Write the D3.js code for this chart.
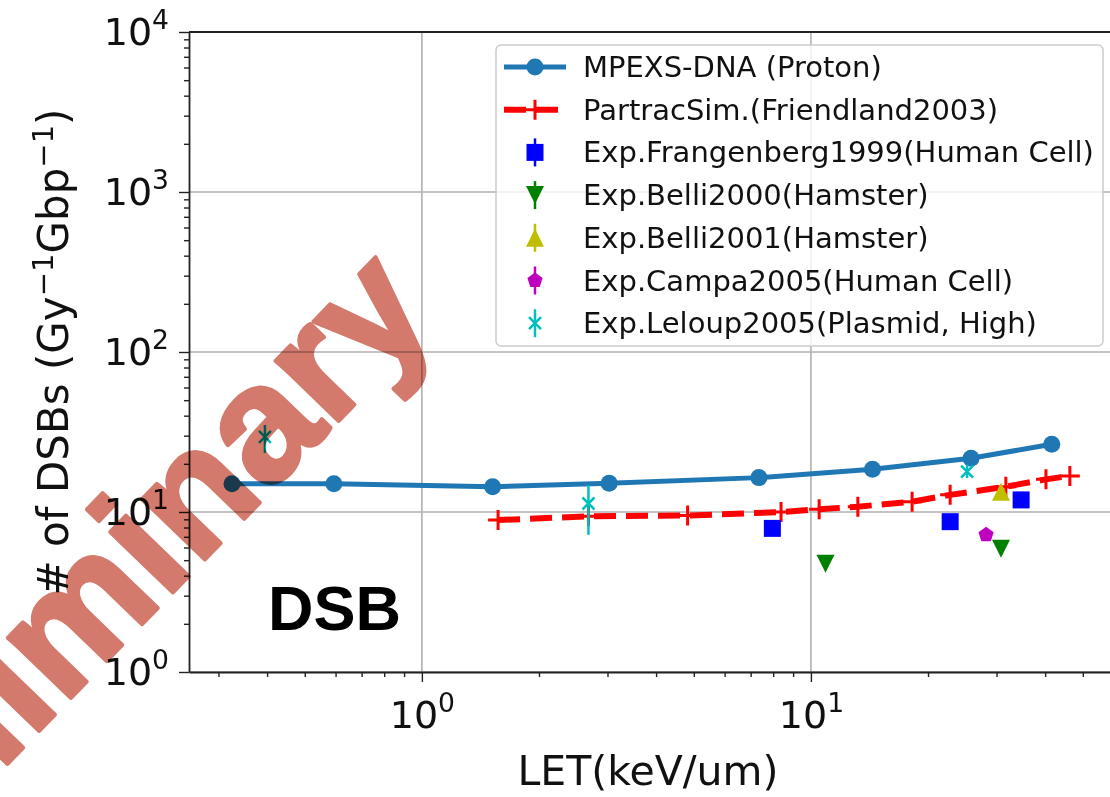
<!DOCTYPE html>
<html>
<head>
<meta charset="utf-8">
<script src="https://cdn.jsdelivr.net/npm/d3@7"></script>
<style>
  body { margin: 0; background: #fff; }
  text { font-family: "DejaVu Sans", sans-serif; }
</style>
</head>
<body>
<script>
// data
const mpexsLET = [0.325, 0.594, 1.52, 3.03, 7.35, 14.4, 25.8, 41.6]
const mpexsDSB = [15.0, 15.0, 14.4, 15.1, 16.4, 18.5, 21.7, 26.5]

const partracLET = [1.57, 2.68, 4.82, 8.38, 10.5, 13.2, 18.2, 22.8, 31.7, 40.2, 46.3]
const partracDSB = [8.9, 9.4, 9.5, 10.0, 10.4, 10.8, 11.6, 12.8, 14.4, 16.0, 16.8]

const frangLET = [7.96, 22.8, 34.7]
const frangDSB = [7.9, 8.7, 11.9]
const belli2000LET = [10.9, 30.8]
const belli2000DSB = [4.75, 5.9]
const belli2001LET = [30.8]
const belli2001DSB = [13.4]
const campaLET = [28.2]
const campaDSB = [7.2]
const leloupLET = [0.395, 2.68, 25.2]
const leloupDSB = [29.5, 11.3, 17.9]
const leloupLo = [23.4, 7.2, 16.3]
const leloupHi = [35.0, 14.7, 19.7]

const yMajor = [1, 10, 100, 1000, 10000]
const xMajor = [1, 10]
const legendLabels = ["MPEXS-DNA (Proton)", "PartracSim.(Friendland2003)",
  "Exp.Frangenberg1999(Human Cell)", "Exp.Belli2000(Hamster)", "Exp.Belli2001(Hamster)",
  "Exp.Campa2005(Human Cell)", "Exp.Leloup2005(Plasmid, High)"]

const w = 1110, h = 797
const pLeft = 189, pRight = 1120, pTop = 32, pBottom = 672

const svg = d3.select("body").append("svg").attr("width", w).attr("height", h)

const x = d3.scaleLog().domain([0.252, 62.3]).range([pLeft, pRight])
const y = d3.scaleLog().domain([1, 10000]).range([pBottom, pTop])

// minor tick values
let xMinor = [], yMinor = []
for (let e = -1; e <= 1; e++) for (let k = 2; k <= 9; k++) {
  let v = k * Math.pow(10, e)
  if (v > 0.252 && v < 62.3) xMinor.push(v)
}
for (let e = 0; e < 4; e++) for (let k = 2; k <= 9; k++) yMinor.push(k * Math.pow(10, e))

// grid
svg.append("g").selectAll("line").data(xMajor).enter().append("line")
  .attr("x1", d => x(d)).attr("x2", d => x(d)).attr("y1", pTop).attr("y2", pBottom)
  .attr("stroke", "#b0b0b0").attr("stroke-width", 1.6)
svg.append("g").selectAll("line").data(yMajor).enter().append("line")
  .attr("x1", pLeft).attr("x2", pRight).attr("y1", d => y(d)).attr("y2", d => y(d))
  .attr("stroke", "#b0b0b0").attr("stroke-width", 1.6)

function supLabels(sel, size) {
  sel.selectAll(".tick text").each(function(d) {
    let t = d3.select(this)
    t.text(null).attr("font-size", size).attr("fill", "#111")
    t.append("tspan").text("10")
    t.append("tspan").attr("dy", -size * 0.42).attr("font-size", size * 0.7)
      .text(Math.round(Math.log10(d)))
  })
}

// axes
let gx = svg.append("g").attr("transform", `translate(0,${pBottom})`)
  .call(d3.axisBottom(x).tickValues(xMajor).tickSize(10).tickPadding(19).tickSizeOuter(0))
supLabels(gx, 38)
svg.append("g").attr("transform", `translate(0,${pBottom})`)
  .call(d3.axisBottom(x).tickValues(xMinor).tickSize(5).tickFormat("").tickSizeOuter(0))
  .select(".domain").remove()

let gy = svg.append("g").attr("transform", `translate(${pLeft},0)`)
  .call(d3.axisLeft(y).tickValues(yMajor).tickSize(10).tickPadding(10).tickSizeOuter(0))
supLabels(gy, 38)
svg.append("g").attr("transform", `translate(${pLeft},0)`)
  .call(d3.axisLeft(y).tickValues(yMinor).tickSize(5).tickFormat("").tickSizeOuter(0))
  .select(".domain").remove()

svg.selectAll(".domain").attr("stroke", "#222").attr("stroke-width", 1.8)
svg.selectAll(".tick line").attr("stroke", "#222").attr("stroke-width", 1.4)
svg.append("line").attr("x1", pLeft).attr("x2", pRight).attr("y1", pTop).attr("y2", pTop)
  .attr("stroke", "#222").attr("stroke-width", 1.8)

// axis titles
svg.append("text").attr("x", 648).attr("y", 785).attr("text-anchor", "middle")
  .attr("font-size", 41).attr("fill", "#111").text("LET(keV/um)")
let yl = svg.append("text").attr("transform", "translate(68,352) rotate(-90)")
  .attr("text-anchor", "middle").attr("font-size", 42).attr("fill", "#111")
yl.append("tspan").text("# of DSBs (Gy")
yl.append("tspan").attr("dy", -15).attr("font-size", 29).text("\u22121")
yl.append("tspan").attr("dy", 15).text("Gbp")
yl.append("tspan").attr("dy", -15).attr("font-size", 29).text("\u22121")
yl.append("tspan").attr("dy", 15).text(")")

// series
const plot = svg.append("g")

let mpexs = mpexsLET.map((d, i) => [d, mpexsDSB[i]])
plot.append("path").datum(mpexs)
  .attr("d", d3.line().x(d => x(d[0])).y(d => y(d[1])))
  .attr("fill", "none").attr("stroke", "#1f77b4").attr("stroke-width", 5)
plot.selectAll(".mp").data(mpexs).enter().append("circle")
  .attr("cx", d => x(d[0])).attr("cy", d => y(d[1])).attr("r", 8.5).attr("fill", "#1f77b4")

let partrac = partracLET.map((d, i) => [d, partracDSB[i]])
plot.append("path").datum(partrac)
  .attr("d", d3.line().x(d => x(d[0])).y(d => y(d[1])))
  .attr("fill", "none").attr("stroke", "#ff0000").attr("stroke-width", 6)
  .attr("stroke-dasharray", "22,10")
plot.selectAll(".pp").data(partrac).enter().append("path")
  .attr("d", d => `M${x(d[0]) - 10},${y(d[1])}h20M${x(d[0])},${y(d[1]) - 10}v20`)
  .attr("stroke", "#ff0000").attr("stroke-width", 3)

const sq = s => `M${-s/2},${-s/2}h${s}v${s}h${-s}Z`
const triDown = s => `M0,${s/2}L${-s/2},${-s/2}L${s/2},${-s/2}Z`
const triUp = s => `M0,${-s/2}L${-s/2},${s/2}L${s/2},${s/2}Z`
const penta = s => d3.range(5).map(k => {
  let a = -Math.PI / 2 + k * 2 * Math.PI / 5
  return (k ? "L" : "M") + (s/2 * Math.cos(a)) + "," + (s/2 * Math.sin(a))
}).join("") + "Z"
const cross = s => `M${-s/2},${-s/2}L${s/2},${s/2}M${-s/2},${s/2}L${s/2},${-s/2}`

function scatter(xs, ys, shape, color) {
  plot.append("g").selectAll("path").data(xs).enter().append("path")
    .attr("transform", (d, i) => `translate(${x(d)},${y(ys[i])})`)
    .attr("d", shape).attr("fill", color)
}
scatter(frangLET, frangDSB, sq(17), "#0000ff")
scatter(belli2000LET, belli2000DSB, triDown(18), "#008000")
scatter(belli2001LET, belli2001DSB, triUp(18), "#bfbf00")
scatter(campaLET, campaDSB, penta(16), "#bf00bf")

plot.append("g").selectAll("line").data(leloupLET).enter().append("line")
  .attr("x1", d => x(d)).attr("x2", d => x(d))
  .attr("y1", (d, i) => y(leloupLo[i])).attr("y2", (d, i) => y(leloupHi[i]))
  .attr("stroke", "#00bfbf").attr("stroke-width", 2.5)
plot.append("g").selectAll("path").data(leloupLET).enter().append("path")
  .attr("transform", (d, i) => `translate(${x(d)},${y(leloupDSB[i])})`)
  .attr("d", cross(12)).attr("stroke", "#00bfbf").attr("stroke-width", 2.5).attr("fill", "none")

// legend
const lg = svg.append("g")
lg.append("rect").attr("x", 496).attr("y", 45).attr("width", 607).attr("height", 301)
  .attr("rx", 5).attr("fill", "#fff").attr("fill-opacity", 0.8).attr("stroke", "#ccc").attr("stroke-width", 1.5)
const rows = lg.selectAll(".row").data(legendLabels).enter().append("g")
  .attr("transform", (d, i) => `translate(0,${67 + i * 42.7})`)
rows.append("text").attr("x", 583).attr("y", 10).attr("font-size", 29).attr("fill", "#111").text(d => d)
const hx = 535
let r0 = d3.select(rows.nodes()[0])
r0.append("line").attr("x1", 504).attr("x2", 566).attr("stroke", "#1f77b4").attr("stroke-width", 5)
r0.append("circle").attr("cx", hx).attr("r", 8.5).attr("fill", "#1f77b4")
let r1 = d3.select(rows.nodes()[1])
r1.append("line").attr("x1", 504).attr("x2", 566).attr("stroke", "#ff0000").attr("stroke-width", 6)
  .attr("stroke-dasharray", "22,10")
r1.append("path").attr("d", `M${hx - 10},0h20M${hx},-10v20`).attr("stroke", "#ff0000").attr("stroke-width", 3)
const legSyms = [[sq(17), "#0000ff"], [triDown(18), "#008000"], [triUp(18), "#bfbf00"], [penta(16), "#bf00bf"]]
legSyms.forEach((s, k) => {
  let r = d3.select(rows.nodes()[k + 2])
  r.append("line").attr("x1", hx).attr("x2", hx).attr("y1", -14).attr("y2", 14)
    .attr("stroke", s[1]).attr("stroke-width", 2.5)
  r.append("path").attr("transform", `translate(${hx},0)`).attr("d", s[0]).attr("fill", s[1])
})
let r6 = d3.select(rows.nodes()[6])
r6.append("line").attr("x1", hx).attr("x2", hx).attr("y1", -14).attr("y2", 14)
  .attr("stroke", "#00bfbf").attr("stroke-width", 2.5)
r6.append("path").attr("transform", `translate(${hx},0)`).attr("d", cross(12))
  .attr("stroke", "#00bfbf").attr("stroke-width", 2.5)

// panel tag
svg.append("text").attr("x", 268).attr("y", 630)
  .style("font-family", "'Liberation Sans', Arial, sans-serif").attr("font-weight", "bold")
  .attr("font-size", 63).attr("fill", "#000").text("DSB")

// watermark
svg.append("text").attr("transform", "translate(439,317) rotate(-46)")
  .attr("text-anchor", "end")
  .style("font-family", "'Liberation Sans', Arial, sans-serif").attr("font-weight", "bold")
  .attr("font-size", 165).attr("fill", "#d47a6c")
  .attr("stroke", "#d47a6c").attr("stroke-width", 4).attr("stroke-linejoin", "round")
  .style("mix-blend-mode", "multiply")
  .text("Preliminary")
</script>
</body>
</html>
